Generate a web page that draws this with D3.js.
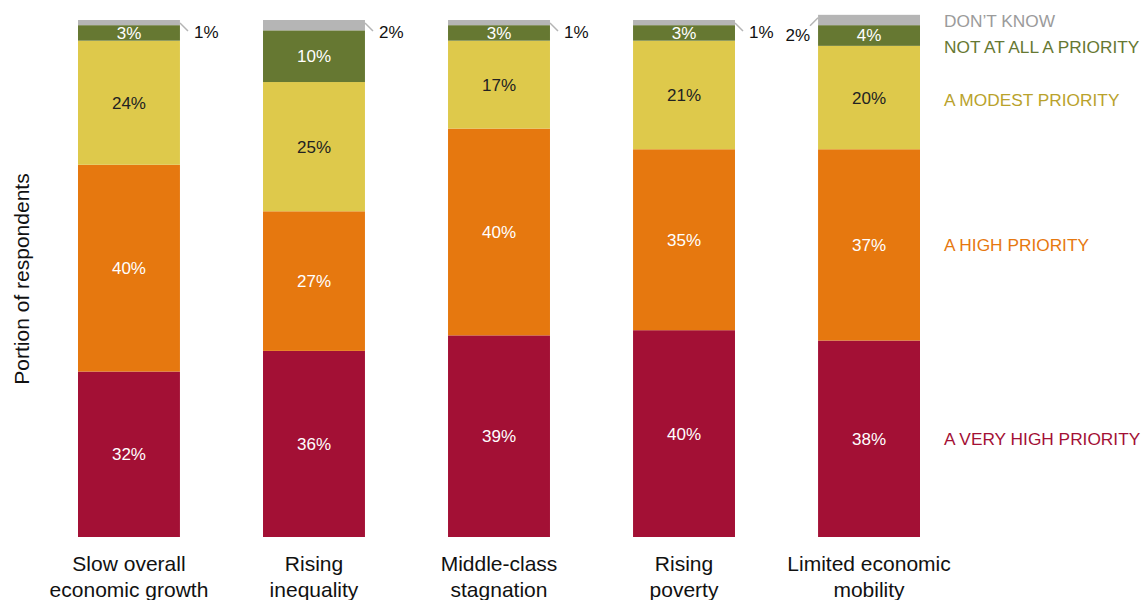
<!DOCTYPE html>
<html><head><meta charset="utf-8">
<script src="https://cdn.jsdelivr.net/npm/d3@7"></script>
<style>body{margin:0;background:#fff}svg{display:block}</style>
</head><body>
<svg id="c" width="1148" height="600"></svg>
<script>
const categories = [["Slow overall","economic growth"],["Rising","inequality"],["Middle-class","stagnation"],["Rising","poverty"],["Limited economic","mobility"]];
const seriesNames = ["A VERY HIGH PRIORITY","A HIGH PRIORITY","A MODEST PRIORITY","NOT AT ALL A PRIORITY","DON\u2019T KNOW"];
const veryHigh = [32,36,39,40,38];
const high = [40,27,40,35,37];
const modest = [24,25,17,21,20];
const notAtAll = [3,10,3,3,4];
const dontKnow = [1,2,1,1,2];
const fills = ["#A31035","#E6780F","#DEC94B","#667832","#B5B5B5"];
const legendColors = ["#A31035","#E6780F","#B9A22C","#667832","#9B9B9B"];
const labelColors = ["#fff","#fff","#222","#fff","#222"];
const axisTitle = "Portion of respondents";

const svg = d3.select("#c");
const font = "'Liberation Sans', Arial, sans-serif";
const narrow = "'Liberation Sans Narrow', 'Liberation Sans', Arial, sans-serif";
const keys = ["vh","h","m","n","d"];
const rows = categories.map((c,i)=>({i, vh:veryHigh[i], h:high[i], m:modest[i], n:notAtAll[i], d:dontKnow[i]}));
const stack = d3.stack().keys(keys)(rows);

const x = d3.scaleBand().domain(d3.range(categories.length)).range([78,920]).paddingInner(0.449).paddingOuter(0);
const y = d3.scaleLinear().domain([0,100]).range([537,20]);

const g = svg.append("g");
stack.forEach((s,k)=>{
  g.selectAll(null).data(s).enter().append("rect")
    .attr("x",(d,i)=>x(i)).attr("width",x.bandwidth())
    .attr("y",d=>y(d[1])).attr("height",d=>y(d[0])-y(d[1]))
    .attr("fill",fills[k]);
});
stack.slice(0,4).forEach((s,k)=>{
  g.selectAll(null).data(s).enter().append("text")
    .attr("x",(d,i)=>x(i)+x.bandwidth()/2)
    .attr("y",d=>(y(d[0])+y(d[1]))/2)
    .attr("dy","0.35em").attr("text-anchor","middle")
    .attr("font-family",narrow).attr("font-size",17)
    .attr("fill",labelColors[k])
    .text((d,i)=>rows[i][keys[k]]+"%");
});
stack[4].forEach((d,i)=>{
  const last = i===categories.length-1;
  const top = y(d[1]);
  if(!last){
    const x0 = x(i)+x.bandwidth();
    g.append("line").attr("x1",x0).attr("y1",top+3).attr("x2",x0+8).attr("y2",top+11)
      .attr("stroke","#B5B5B5").attr("stroke-width",1.5);
    g.append("text").attr("x",x0+14).attr("y",top+12).attr("dy","0.35em")
      .attr("font-family",narrow).attr("font-size",17).attr("fill","#111")
      .text(dontKnow[i]+"%");
  } else {
    const x0 = x(i);
    g.append("line").attr("x1",x0).attr("y1",top+3).attr("x2",x0-8).attr("y2",top+11)
      .attr("stroke","#B5B5B5").attr("stroke-width",1.5);
    g.append("text").attr("x",x0-8).attr("y",top+20).attr("dy","0.35em").attr("text-anchor","end")
      .attr("font-family",narrow).attr("font-size",17).attr("fill","#111")
      .text(dontKnow[i]+"%");
  }
});
const li = categories.length-1;
const legendY = [
  (y(stack[0][li][0])+y(stack[0][li][1]))/2,
  (y(stack[1][li][0])+y(stack[1][li][1]))/2,
  (y(stack[2][li][0])+y(stack[2][li][1]))/2 + 2,
  47, 21
];
seriesNames.forEach((n,k)=>{
  svg.append("text").attr("x",944).attr("y",legendY[k]).attr("dy","0.35em")
    .attr("font-family",font).attr("font-size",17.3).attr("fill",legendColors[k]).text(n);
});
categories.forEach((c,i)=>{
  const t = svg.append("text").attr("text-anchor","middle")
    .attr("font-family",font).attr("font-size",21).attr("fill","#111");
  c.forEach((line,j)=>t.append("tspan").attr("x",x(i)+x.bandwidth()/2).attr("y",571+j*26).text(line));
});
svg.append("text").attr("transform","translate(29,279) rotate(-90)").attr("text-anchor","middle")
  .attr("font-family",font).attr("font-size",21).attr("fill","#111").text(axisTitle);
</script>
</body></html>
